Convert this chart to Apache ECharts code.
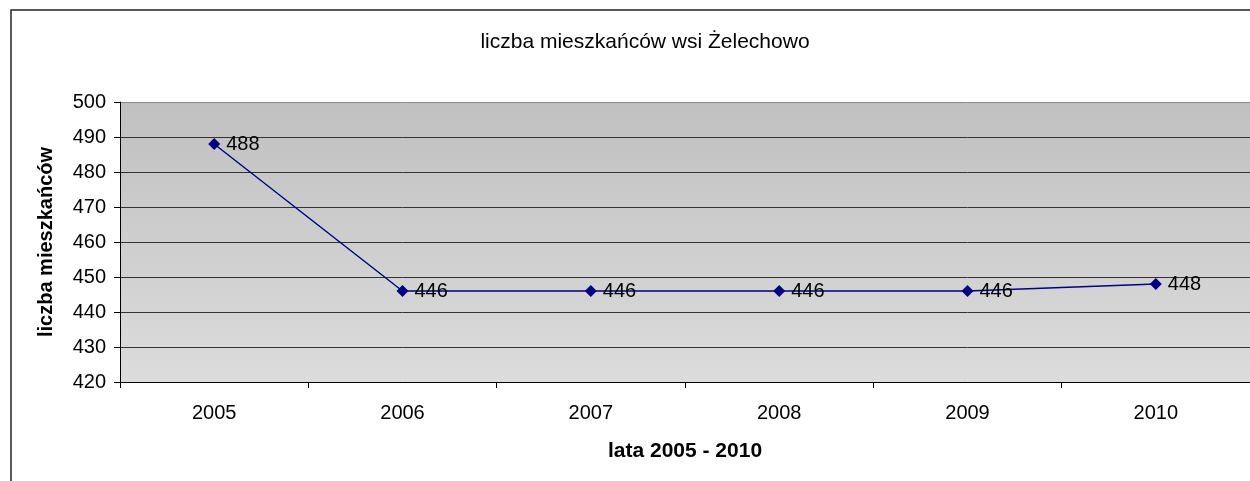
<!DOCTYPE html>
<html>
<head>
<meta charset="utf-8">
<script src="https://cdn.jsdelivr.net/npm/echarts@6/dist/echarts.min.js"></script>
<style>
  html, body { margin: 0; padding: 0; background: #fff; }
  #chart { width: 1250px; height: 481px; }
</style>
</head>
<body>
<div id="chart"></div>
<script>
// data
const years = ['2005', '2006', '2007', '2008', '2009', '2010'];
const residents = [488, 446, 446, 446, 446, 448];

const chart = echarts.init(document.getElementById('chart'), null, { renderer: 'canvas' });

const font = 'Arial, "Liberation Sans", sans-serif';

const option = {
  animation: false,
  textStyle: { fontFamily: font },
  title: {
    text: 'liczba mieszkańców wsi Żelechowo',
    left: 640,
    textAlign: 'center',
    top: 27,
    textStyle: { fontSize: 21, fontWeight: 'normal', color: '#000', fontFamily: font }
  },
  graphic: [
    {
      type: 'rect',
      shape: { x: 11, y: 10, width: 1400, height: 600 },
      style: { fill: 'none', stroke: '#222', lineWidth: 1.5 },
      z: 0
    }
  ],
  grid: {
    left: 120,
    right: 0,
    top: 102,
    bottom: 99,
    show: true,
    borderWidth: 0,
    backgroundColor: new echarts.graphic.LinearGradient(0, 0, 0, 1, [
      { offset: 0, color: '#c0c0c0' },
      { offset: 1, color: '#dcdcdc' }
    ])
  },
  xAxis: {
    type: 'category',
    data: years,
    boundaryGap: true,
    name: 'lata 2005 - 2010',
    nameLocation: 'middle',
    nameGap: 59,
    nameTextStyle: { fontSize: 21, fontWeight: 'bold', color: '#000', fontFamily: font },
    axisLine: { lineStyle: { color: '#000', width: 1 } },
    axisTick: { show: true, length: 6, lineStyle: { color: '#000' } },
    axisLabel: { fontSize: 20, color: '#000', margin: 21, fontFamily: font }
  },
  yAxis: {
    type: 'value',
    min: 420,
    max: 500,
    interval: 10,
    name: 'liczba mieszkańców',
    nameLocation: 'middle',
    nameGap: 64,
    nameRotate: 90,
    nameTextStyle: { fontSize: 20, fontWeight: 'bold', color: '#000', fontFamily: font },
    axisLine: { show: true, lineStyle: { color: '#000', width: 1 } },
    axisTick: { show: true, length: 6, lineStyle: { color: '#000' } },
    axisLabel: { fontSize: 20, color: '#000', margin: 14, fontFamily: font },
    splitLine: {
      show: true,
      lineStyle: {
        color: ['#333', '#333', '#333', '#333', '#333', '#333', '#333', '#333', '#8a8a8a'],
        width: 1
      }
    }
  },
  series: [
    {
      type: 'line',
      data: residents,
      symbol: 'diamond',
      symbolSize: 12,
      itemStyle: { color: '#000080' },
      lineStyle: { color: '#000080', width: 1.4 },
      label: {
        show: true,
        position: 'right',
        distance: 6,
        fontSize: 20,
        color: '#000',
        fontFamily: font
      }
    }
  ]
};

chart.setOption(option);
</script>
</body>
</html>
